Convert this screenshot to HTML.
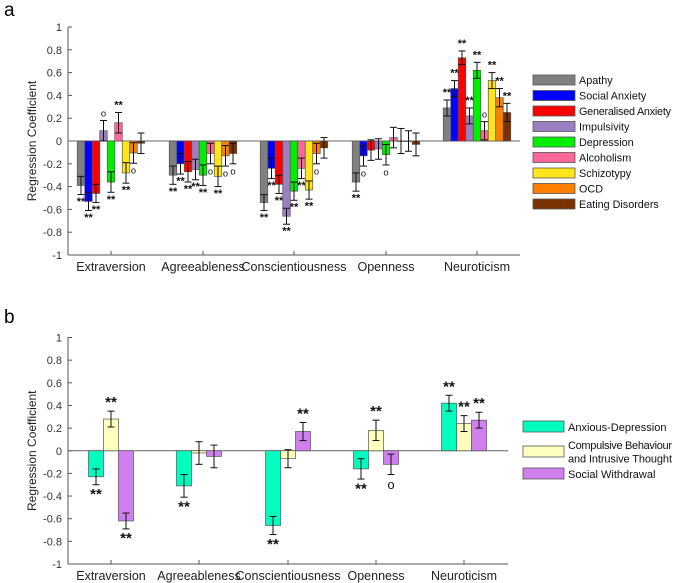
<!DOCTYPE html>
<html><head><meta charset="utf-8"><style>
body{margin:0;background:#fff;}
svg{display:block;font-family:"Liberation Sans",sans-serif;}
</style></head><body>
<svg id="fig" width="673" height="583">
<text x="4" y="16" font-size="19">a</text>
<text x="4" y="323" font-size="19">b</text>
</svg>
<script>
const traits = ["Extraversion","Agreeableness","Conscientiousness","Openness","Neuroticism"];
const seriesA = ["Apathy","Social Anxiety","Generalised Anxiety","Impulsivity","Depression","Alcoholism","Schizotypy","OCD","Eating Disorders"];
const colorsA = ["#808080","#0000ff","#ff0000","#9b7fc0","#00ee00","#ff6699","#ffe51a","#ff8000","#7a3300"];
const valuesA = [
 [-0.39,-0.53,-0.46,0.09,-0.36,0.16,-0.28,-0.105,-0.02],
 [-0.30,-0.20,-0.27,-0.25,-0.30,-0.11,-0.31,-0.13,-0.11],
 [-0.54,-0.24,-0.38,-0.66,-0.44,-0.24,-0.43,-0.11,-0.06],
 [-0.36,-0.13,-0.08,-0.07,-0.12,0.03,0.0,0.0,-0.03],
 [0.29,0.46,0.73,0.22,0.62,0.09,0.53,0.38,0.25]
];
const errA = [
 [0.08,0.08,0.08,0.09,0.09,0.09,0.09,0.09,0.09],
 [0.08,0.09,0.09,0.09,0.09,0.09,0.09,0.09,0.09],
 [0.07,0.09,0.08,0.07,0.08,0.09,0.08,0.09,0.09],
 [0.08,0.09,0.09,0.09,0.09,0.09,0.11,0.09,0.1],
 [0.07,0.07,0.06,0.07,0.07,0.08,0.07,0.08,0.08]
];
const sigA = [
 ["**","**","**","o","**","**","**","o",""],
 ["**","**","**","**","**","o","**","o","o"],
 ["**","**","**","**","**","**","**","o",""],
 ["**","o","","","o","","","",""],
 ["**","**","**","**","**","o","**","**","**"]
];
const seriesB = ["Anxious-Depression","Compulsive Behaviour|and Intrusive Thought","Social Withdrawal"];
const colorsB = ["#00ffbf","#ffffbf","#d07fef"];
const valuesB = [[-0.23,0.28,-0.62],[-0.31,-0.02,-0.05],[-0.66,-0.07,0.17],[-0.16,0.18,-0.12],[0.42,0.24,0.27]];
const errB = [[0.07,0.07,0.07],[0.1,0.1,0.1],[0.08,0.08,0.08],[0.09,0.09,0.09],[0.07,0.07,0.07]];
const sigB = [["**","**","**"],["**","",""],["**","","**"],["**","**","o"],["**","**","**"]];
const yTicks = [1,0.8,0.6,0.4,0.2,0,-0.2,-0.4,-0.6,-0.8,-1];

const svg = document.getElementById('fig');
const NS = "http://www.w3.org/2000/svg";
function mk(tag, attrs, parent){
  const e = document.createElementNS(NS, tag);
  for (const k in attrs) e.setAttribute(k, attrs[k]);
  (parent||svg).appendChild(e);
  return e;
}

function panel(cfg){
  const {x0,x1,yTop,yBot,centers,values,errs,sigs,colors,barW,starSize,name} = cfg;
  const y = v => yTop + (1 - v) / 2 * (yBot - yTop);
  const g = mk('g', {});
  
  
  const ax = mk('line', {x1:x0, y1:yTop, x2:x0, y2:yBot, stroke:'#555', 'stroke-width':1}, g);
  
  
  const bx = mk('line', {x1:x0, y1:yBot, x2:x1, y2:yBot, stroke:'#555', 'stroke-width':1}, g);
  
  
  yTicks.forEach(t => {
    mk('line', {x1:x0, y1:y(t), x2:x0+4, y2:y(t), stroke:'#555'}, g);
    const tx = mk('text', {x:x0-6, y:y(t)+4, 'font-size':11, 'text-anchor':'end', fill:'#333'}, g);
    tx.textContent = String(t);
    
    
  });
  const yl = mk('text', {x:0, y:0, 'font-size':12, 'text-anchor':'middle', fill:'#222',
    transform:`translate(${x0-32},${y(0)}) rotate(-90)`}, g);
  yl.textContent = 'Regression Coefficient';
  
  
  mk('line', {x1:x0, y1:y(0), x2:x1, y2:y(0), stroke:'#666', 'stroke-width':1}, g);
  traits.forEach((tr, i) => {
    const cx = centers[i];
    mk('line', {x1:cx, y1:yBot, x2:cx, y2:yBot-4, stroke:'#555'}, g);
    const lab = mk('text', {x:cx, y:yBot+16, 'font-size':12.5, 'text-anchor':'middle', fill:'#222'}, g);
    lab.textContent = tr;
    
    
    const n = values[i].length;
    values[i].forEach((v, j) => {
      const bx0 = cx + (j - n/2) * barW;
      const top = Math.min(y(v), y(0)), h = Math.abs(y(v) - y(0));
      const r = mk('rect', {x:bx0, y:top, width:barW, height:Math.max(h,0.5), fill:colors[j], stroke:'#555', 'stroke-width':0.7}, g);
      
      
      const bc = bx0 + barW/2, e = errs[i][j];
      const ey1 = y(v+e), ey2 = y(v-e), cap = Math.min(3.5, barW/2+1);
      mk('line', {x1:bc, y1:ey1, x2:bc, y2:ey2, stroke:'#111', 'stroke-width':1}, g);
      mk('line', {x1:bc-cap, y1:ey1, x2:bc+cap, y2:ey1, stroke:'#111', 'stroke-width':1}, g);
      mk('line', {x1:bc-cap, y1:ey2, x2:bc+cap, y2:ey2, stroke:'#111', 'stroke-width':1}, g);
      const s = sigs[i][j];
      if (s) {
        const sy = v >= 0 ? ey1 - 4 : ey2 + starSize*0.95;
        const st = mk('text', {x:bc, y:sy, 'font-size': s==='o' ? starSize*0.85 : starSize, 'text-anchor':'middle', fill:'#111', 'font-weight': s==='o' ? 'normal' : 'bold'}, g);
        st.textContent = s === '**' ? '**' : 'o';
        
        
      }
    });
  });
}

panel({x0:68, x1:520, yTop:27, yBot:255, centers:[111,203,294,386,477],
  values:valuesA, errs:errA, sigs:sigA, colors:colorsA, barW:7.5, starSize:11, name:'panel-a-chart'});
panel({x0:68, x1:508, yTop:337.5, yBot:564, centers:[111,199,288,376,464],
  values:valuesB, errs:errB, sigs:sigB, colors:colorsB, barW:15, starSize:15, name:'panel-b-chart'});

const lgA = mk('g', {});


seriesA.forEach((s, j) => {
  const yy = 80 + j*15.5;
  const r = mk('rect', {x:533, y:yy-5, width:42, height:10, fill:colorsA[j], stroke:'#555', 'stroke-width':0.8}, lgA);
  
  
  const t = mk('text', {x:579, y:yy+4, 'font-size':10.8, fill:'#111'}, lgA);
  if (s.length > 17) t.setAttribute('textLength', 92);
  t.textContent = s;
  
  
});
const lgB = mk('g', {});


const rowsB = [427, 452, 474];
seriesB.forEach((s, j) => {
  const yy = rowsB[j];
  const r = mk('rect', {x:523, y:yy-6, width:41, height:11, fill:colorsB[j], stroke:'#555', 'stroke-width':0.8}, lgB);
  
  
  const parts = s.split('|');
  parts.forEach((p, k) => {
    const t = mk('text', {x:568, y: parts.length>1 ? yy-3+k*13.5 : yy+4, 'font-size':11, fill:'#111'}, lgB);
    if (p.length > 18) t.setAttribute('textLength', 104);
    t.textContent = p;
    
    
  });
});
</script>
</body></html>
